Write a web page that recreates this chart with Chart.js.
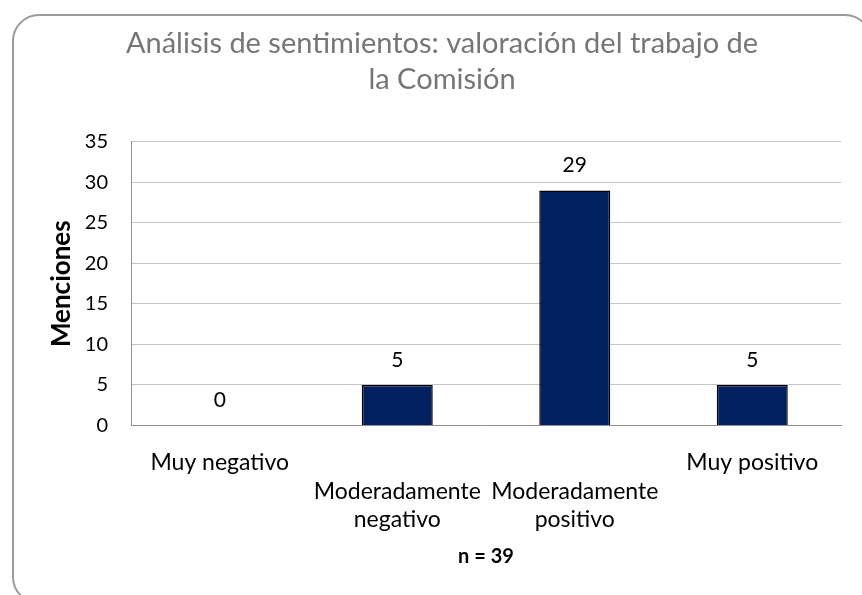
<!DOCTYPE html>
<html>
<head>
<meta charset="utf-8">
<title>Análisis de sentimientos</title>
<script src="https://cdn.jsdelivr.net/npm/chart.js@4.4.1/dist/chart.umd.min.js"></script>
<style>
    html, body { margin: 0; padding: 0; background: #fff; overflow: hidden; }
    .frame {
        position: absolute; left: 12px; top: 14px; width: 860px; height: 590px;
        box-sizing: border-box; border: 2px solid #9a9a9a; border-radius: 27px;
    }
    .chart-box { position: absolute; left: 0; top: 0; width: 862px; height: 595px; }
</style>
</head>
<body>
<div class="frame"></div>
<div class="chart-box"><canvas id="sentiment-chart"></canvas></div>
<script>
    var categories = ['Muy negativo', 'Moderadamente negativo', 'Moderadamente positivo', 'Muy positivo'];
    // Excel staggers the long labels onto a second row
    var tickLines = [
        ['Muy negativo'],
        ['', 'Moderadamente', 'negativo'],
        ['', 'Moderadamente', 'positivo'],
        ['Muy positivo']
    ];
    var menciones = [0, 5, 29, 5];
    var yMin = 0, yMax = 35, yStep = 5;
    var titleLines = ['Análisis de sentimientos: valoración del trabajo de', 'la Comisión'];
    var sampleNote = 'n = 39';

    var barValueLabels = {
        id: 'barValueLabels',
        afterDatasetsDraw: function (chart) {
            var ctx = chart.ctx;
            var meta = chart.getDatasetMeta(0);
            ctx.save();
            ctx.font = '21px Lato';
            ctx.fillStyle = '#000';
            ctx.textAlign = 'center';
            ctx.textBaseline = 'middle';
            meta.data.forEach(function (bar, i) {
                ctx.fillText(String(menciones[i]), bar.x, bar.y - 25);
            });
            ctx.restore();
        }
    };

    new Chart(document.getElementById('sentiment-chart'), {
        type: 'bar',
        data: {
            labels: categories,
            datasets: [
                {
                    label: 'Menciones',
                    data: menciones,
                    backgroundColor: '#002060',
                    borderColor: '#000',
                    borderWidth: 1.5,
                    borderSkipped: 'start',
                    barPercentage: 0.4,
                    categoryPercentage: 1.0
                }
            ]
        },
        plugins: [barValueLabels],
        options: {
            responsive: true,
            maintainAspectRatio: false,
            animation: false,
            plugins: {
                legend: { display: false },
                tooltip: { enabled: false },
                title: {
                    display: true,
                    text: titleLines,
                    color: '#767676',
                    font: { family: 'Lato', size: 29, weight: 'normal', lineHeight: 1.24 },
                    padding: { top: 26, bottom: 44 }
                }
            },
            layout: {
                padding: { left: 43, right: 21, top: 0, bottom: 0 }
            },
            scales: {
                x: {
                    grid: { display: false, drawTicks: false },
                    border: { display: true, color: '#8f8f8f', width: 1 },
                    ticks: {
                        color: '#000',
                        font: { family: 'Lato', size: 23, lineHeight: 1.24 },
                        padding: 23,
                        maxRotation: 0,
                        minRotation: 0,
                        autoSkip: false,
                        callback: function (value, index) { return tickLines[index]; }
                    },
                    title: {
                        display: true,
                        text: sampleNote,
                        color: '#000',
                        font: { family: 'Lato', size: 20, weight: 'bold' },
                        padding: { top: 0, bottom: 26 }
                    },
                    afterFit: function (scale) { scale.height = 169.5; }
                },
                y: {
                    min: yMin,
                    max: yMax,
                    grid: { color: '#c4c4c4', lineWidth: 1, drawTicks: false },
                    border: { display: true, color: '#8f8f8f', width: 1 },
                    ticks: {
                        stepSize: yStep,
                        color: '#000',
                        font: { family: 'Lato', size: 20 },
                        padding: 23
                    },
                    title: {
                        display: true,
                        text: 'Menciones',
                        color: '#000',
                        font: { family: 'Lato', size: 26, weight: 'bold' },
                        padding: { top: 3, bottom: 0 }
                    },
                    afterFit: function (scale) { scale.width = 88; }
                }
            }
        }
    });
</script>
</body>
</html>
